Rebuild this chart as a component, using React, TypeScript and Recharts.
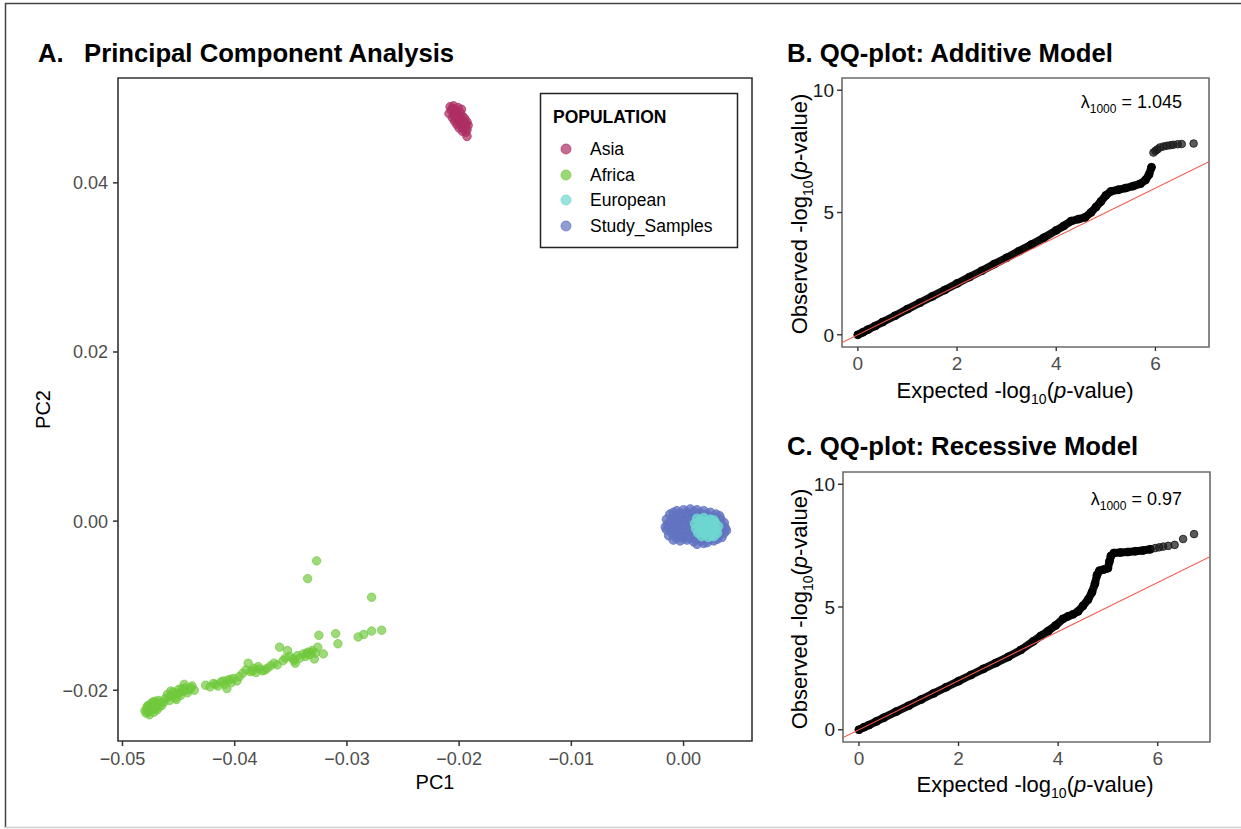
import React from 'react';
import { ScatterChart, Scatter, XAxis, YAxis, ReferenceArea } from 'recharts';

const FONT = "'Liberation Sans', Arial, Helvetica, sans-serif";

// ---------- Panel A: PCA ----------
const populations = ['Asia', 'Africa', 'European', 'Study_Samples'];
const popColors = ['#AD2F63', '#70C93C', '#6ED6D0', '#6173C0'];
const pc1Ticks = [-0.05, -0.04, -0.03, -0.02, -0.01, 0.0];
const pc2Ticks = [-0.02, 0.0, 0.02, 0.04];

const asiaPoints = [
  [-0.0208, 0.049], [-0.0205, 0.0491], [-0.0201, 0.0489], [-0.0198, 0.0487], [-0.0207, 0.0486],
  [-0.0203, 0.0485], [-0.0199, 0.0483], [-0.0209, 0.0482], [-0.0205, 0.048], [-0.0201, 0.048],
  [-0.0197, 0.0479], [-0.0206, 0.0477], [-0.0202, 0.0476], [-0.0198, 0.0475], [-0.0195, 0.0476],
  [-0.0204, 0.0473], [-0.02, 0.0472], [-0.0196, 0.0471], [-0.0193, 0.0472], [-0.0202, 0.0469],
  [-0.0198, 0.0468], [-0.0195, 0.0467], [-0.0192, 0.0468], [-0.02, 0.0465], [-0.0196, 0.0464],
  [-0.0193, 0.0463], [-0.0197, 0.0461], [-0.0194, 0.046], [-0.0193, 0.0455],
  [-0.0206, 0.0488], [-0.0203, 0.0482], [-0.02, 0.0477], [-0.0199, 0.047], [-0.0197, 0.0466],
  [-0.0204, 0.0479], [-0.0194, 0.047], [-0.0201, 0.0474],
];

const africaPoints = [
  [-0.0479, -0.0227], [-0.0478, -0.0222], [-0.0477, -0.0218], [-0.0476, -0.0225], [-0.0475, -0.022],
  [-0.0474, -0.0215], [-0.0473, -0.0223], [-0.0472, -0.0218], [-0.0471, -0.0213], [-0.047, -0.0221],
  [-0.0469, -0.0216], [-0.0468, -0.0212], [-0.0467, -0.0219], [-0.048, -0.0224], [-0.0476, -0.0229],
  [-0.0472, -0.0226], [-0.0466, -0.0214], [-0.0465, -0.0218], [-0.0478, -0.0219], [-0.0474, -0.0221],
  [-0.0471, -0.0217], [-0.0477, -0.0226], [-0.0469, -0.0223], [-0.0473, -0.0214],
  [-0.0462, -0.021], [-0.046, -0.0205], [-0.0458, -0.0212], [-0.0456, -0.0207], [-0.0455, -0.0202],
  [-0.0453, -0.0209], [-0.0451, -0.0204], [-0.045, -0.0199], [-0.0448, -0.0206], [-0.0446, -0.0201],
  [-0.0444, -0.0197], [-0.0442, -0.0203], [-0.044, -0.0199], [-0.0438, -0.0195], [-0.0445, -0.0193],
  [-0.0436, -0.02], [-0.0457, -0.0201], [-0.0463, -0.0214], [-0.0459, -0.0208], [-0.0454, -0.0205],
  [-0.0449, -0.0203], [-0.0447, -0.0198], [-0.0443, -0.02], [-0.0439, -0.0197], [-0.0452, -0.0211],
  [-0.0426, -0.0194], [-0.0422, -0.0196], [-0.0419, -0.0192], [-0.0415, -0.0195], [-0.0412, -0.019],
  [-0.0409, -0.0193], [-0.0406, -0.0188], [-0.0403, -0.0191], [-0.0401, -0.0186], [-0.0398, -0.0189],
  [-0.0396, -0.0184], [-0.0407, -0.0198], [-0.0417, -0.0193], [-0.041, -0.0189], [-0.0404, -0.0187],
  [-0.0393, -0.018], [-0.039, -0.0176], [-0.0388, -0.0168], [-0.0386, -0.0178], [-0.0383, -0.0174],
  [-0.0381, -0.0179], [-0.0378, -0.0175], [-0.0375, -0.0177], [-0.0371, -0.0174], [-0.0368, -0.0171],
  [-0.0365, -0.0168], [-0.0384, -0.0177], [-0.0379, -0.0172], [-0.0373, -0.0176],
  [-0.0362, -0.017], [-0.036, -0.0149], [-0.0357, -0.0165], [-0.0355, -0.0162], [-0.0353, -0.0153],
  [-0.0351, -0.016], [-0.0348, -0.0163], [-0.0346, -0.0168], [-0.0344, -0.0159], [-0.0342, -0.0162],
  [-0.0339, -0.0157], [-0.0337, -0.016], [-0.0335, -0.0155], [-0.0333, -0.0158], [-0.0331, -0.0153],
  [-0.0329, -0.0163], [-0.0328, -0.0156], [-0.0326, -0.0149], [-0.0325, -0.0135], [-0.0321, -0.0157],
  [-0.0336, -0.0157], [-0.0332, -0.0155], [-0.0347, -0.0165],
  [-0.0327, -0.0047], [-0.0335, -0.0068], [-0.0278, -0.009], [-0.031, -0.0133], [-0.0308, -0.0145],
  [-0.029, -0.0137], [-0.0285, -0.0134], [-0.0278, -0.013], [-0.0269, -0.0129],
];

const studyPoints = [
  [-0.0012, 0.0008], [-0.0006, 0.0012], [0.0, 0.0013], [0.0006, 0.0014], [0.0012, 0.0013], [0.0018, 0.0012],
  [0.0024, 0.001], [0.0029, 0.0008],
  [-0.0015, 0.0002], [-0.0009, 0.0004], [-0.0003, 0.0005], [0.0003, 0.0007], [0.0009, 0.0006], [0.0015, 0.0005],
  [0.0021, 0.0004], [0.0027, 0.0003], [0.0033, 0.0002],
  [-0.0014, -0.0004], [-0.0008, -0.0003], [-0.0002, -0.0002], [0.0004, -0.0001], [0.001, -0.0002],
  [0.0016, -0.0003], [0.0022, -0.0002], [0.0028, -0.0003], [0.0034, -0.0004], [0.0037, -0.0008],
  [-0.0015, -0.001], [-0.001, -0.0011], [-0.0004, -0.0009], [0.0002, -0.001], [0.0008, -0.0011],
  [0.0014, -0.0012], [0.002, -0.001], [0.0026, -0.0011], [0.0032, -0.0012], [0.0036, -0.0014],
  [-0.0013, -0.0017], [-0.0007, -0.0016], [-0.0001, -0.0018], [0.0005, -0.0017], [0.0011, -0.0019],
  [0.0017, -0.0018], [0.0023, -0.0019], [0.0029, -0.0018], [0.0034, -0.0019],
  [-0.0009, -0.0022], [-0.0003, -0.0023], [0.0003, -0.0022], [0.0009, -0.0024], [0.0015, -0.0023],
  [0.0021, -0.0025], [0.0027, -0.0023], [0.0012, -0.0027], [0.0018, -0.0026],
  [-0.0009, 0.001], [-0.0003, 0.0009], [0.0003, 0.001], [0.0009, 0.0011], [0.0015, 0.0009], [0.0021, 0.0008],
  [-0.0012, -0.0001], [-0.0006, 0.0], [0.0, 0.0001], [0.0006, 0.0002], [0.0012, 0.0001], [0.0018, 0.0001],
  [0.0024, 0.0], [0.003, -0.0001], [-0.0011, -0.0007], [-0.0005, -0.0006], [0.0001, -0.0006],
  [0.0007, -0.0007], [0.0013, -0.0007], [0.0019, -0.0006], [0.0025, -0.0007], [0.0031, -0.0008],
  [-0.001, -0.0014], [-0.0004, -0.0013], [0.0002, -0.0014], [0.0008, -0.0015], [0.0014, -0.0015],
  [0.002, -0.0014], [0.0026, -0.0015], [0.0032, -0.0016], [-0.0006, -0.002], [0.0, -0.002],
  [0.0006, -0.002], [0.0012, -0.0021], [0.0018, -0.0021], [0.0024, -0.0021], [0.003, -0.0021],
  [-0.0016, -0.0007], [0.0038, -0.0011], [0.0036, -0.0002], [0.0032, 0.0006],
];

const europeanPoints = [
  [0.0012, 0.0003], [0.0018, 0.0004], [0.0024, 0.0002], [0.001, -0.0003], [0.0016, -0.0002],
  [0.0022, -0.0003], [0.0028, -0.0002], [0.0031, -0.0006], [0.0011, -0.0009], [0.0017, -0.0008],
  [0.0023, -0.0009], [0.0029, -0.001], [0.0013, -0.0014], [0.0019, -0.0013], [0.0025, -0.0015],
  [0.003, -0.0014], [0.0016, -0.0018], [0.0022, -0.0019], [0.0027, -0.0018],
  [0.0015, 0.0001], [0.0021, 0.0], [0.0027, 0.0001], [0.0014, -0.0006], [0.002, -0.0006],
  [0.0026, -0.0006], [0.0016, -0.0011], [0.0022, -0.0012], [0.0028, -0.0013], [0.0019, -0.0016],
  [0.0025, -0.0017],
];

// ---------- Panels B & C: QQ plots ----------
const qqXTicks = [0, 2, 4, 6];
const qqYTicks = [0, 5, 10];

const additiveDense = [
  [0, 0], [0.1, 0.1], [0.2, 0.21], [0.35, 0.36], [0.5, 0.52], [0.75, 0.78], [1, 1.05], [1.25, 1.31],
  [1.5, 1.57], [1.75, 1.83], [2, 2.1], [2.25, 2.36], [2.5, 2.62], [2.75, 2.89], [3, 3.15], [3.25, 3.42],
  [3.5, 3.69], [3.75, 3.97], [4, 4.27], [4.15, 4.45], [4.3, 4.65], [4.45, 4.73], [4.58, 4.8], [4.7, 5.0],
  [4.8, 5.22], [4.9, 5.45], [5.0, 5.7], [5.1, 5.86], [5.25, 5.93], [5.4, 6.0], [5.55, 6.08], [5.7, 6.18],
  [5.8, 6.33], [5.87, 6.55], [5.92, 6.85],
];
const additiveTail = [
  [5.96, 7.45], [6.0, 7.52], [6.04, 7.58], [6.09, 7.66], [6.16, 7.7], [6.23, 7.73], [6.3, 7.75],
  [6.36, 7.77], [6.45, 7.79], [6.53, 7.8], [6.77, 7.82],
];

const recessiveDense = [
  [0, 0], [0.1, 0.1], [0.2, 0.19], [0.35, 0.34], [0.5, 0.49], [0.75, 0.74], [1, 0.98], [1.25, 1.23],
  [1.5, 1.48], [1.75, 1.73], [2, 1.98], [2.25, 2.23], [2.5, 2.48], [2.75, 2.72], [3, 2.97], [3.25, 3.25],
  [3.5, 3.6], [3.65, 3.82], [3.8, 4.02], [3.95, 4.25], [4.1, 4.52], [4.2, 4.62], [4.3, 4.7], [4.4, 4.82],
  [4.5, 5.05], [4.6, 5.3], [4.68, 5.6], [4.74, 5.95], [4.78, 6.3], [4.83, 6.48], [4.92, 6.53], [5.0, 6.58],
  [5.03, 6.85], [5.06, 7.08], [5.12, 7.2], [5.25, 7.22], [5.4, 7.24], [5.55, 7.27], [5.7, 7.3], [5.85, 7.35],
];
const recessiveTail = [
  [5.95, 7.4], [6.03, 7.43], [6.11, 7.46], [6.21, 7.49], [6.34, 7.53], [6.51, 7.77], [6.73, 7.97],
];

const toPC = (arr: number[][]) => arr.map(([a, b]) => ({ pc1: a, pc2: b }));
const toQQ = (arr: number[][]) => arr.map(([a, b]) => ({ e: a, o: b }));

const pcDomainX: [number, number] = [-0.0504, 0.0061];
const pcDomainY: [number, number] = [-0.026, 0.0524];
const qqDomainY: [number, number] = [-0.5, 10.5];

const fmtPC = (v: number) => (v < -1e-9 ? '\u2212' : '') + Math.abs(v).toFixed(2);

const dot = (color: string, r: number, fo: number, so: number) => (props: any) =>
  props.cx == null ? <g /> : (
    <circle cx={props.cx} cy={props.cy} r={r} fill={color} fillOpacity={fo} stroke={color} strokeOpacity={so} strokeWidth={1} />
  );
const noDot = () => <g />;

function QQPanel({ dense, tail, domainX, left, top, height, marginTop, marginBottom, marginLeft, marginRight }: any) {
  const red = [{ e: domainX[0], o: domainX[0] }, { e: domainX[1], o: domainX[1] }];
  return (
    <div style={{ position: 'absolute', left, top }}>
      <ScatterChart width={470} height={height} margin={{ top: marginTop, right: marginRight, bottom: marginBottom, left: marginLeft }}>
        <XAxis type="number" dataKey="e" domain={domainX} ticks={qqXTicks} allowDataOverflow height={40}
          axisLine={false} tickLine={{ stroke: '#333', strokeWidth: 1.4 }} tickSize={4} tickMargin={6} interval={0}
          tick={{ fill: '#4d4d4d', fontSize: 19, fontFamily: FONT }} />
        <YAxis type="number" dataKey="o" domain={qqDomainY} ticks={qqYTicks} allowDataOverflow width={40}
          axisLine={false} tickLine={{ stroke: '#333', strokeWidth: 1.4 }} tickSize={5} tickMargin={3} interval={0}
          tick={{ fill: '#1a1a1a', fontSize: 19, fontFamily: FONT }} />
        <ReferenceArea x1={domainX[0]} x2={domainX[1]} y1={qqDomainY[0]} y2={qqDomainY[1]} fill="none" fillOpacity={0}
          stroke="#6b6b6b" strokeWidth={1.6} ifOverflow="visible" />
        <Scatter data={toQQ(dense)} isAnimationActive={false}
          line={{ stroke: '#000', strokeWidth: 8, strokeOpacity: 0.95, strokeLinecap: 'round', strokeLinejoin: 'round' } as any}
          shape={dot('#000', 4, 0.8, 0.8)} />
        <Scatter data={toQQ(tail)} isAnimationActive={false} shape={dot('#1a1a1a', 3.8, 0.72, 0.85)} />
        <Scatter data={red} isAnimationActive={false} line={{ stroke: '#F0564A', strokeWidth: 1.1 } as any} shape={noDot} />
      </ScatterChart>
    </div>
  );
}

const SubLabel = ({ x, y, main, rotate }: any) => (
  <text x={0} y={0} transform={`translate(${x},${y})${rotate ? ' rotate(-90)' : ''}`} textAnchor="middle"
    fontSize={22} fontFamily={FONT} fill="#000">
    {main} -log<tspan fontSize={14} dy={6}>10</tspan><tspan dy={-6}>(</tspan><tspan fontStyle="italic">p</tspan>-value)
  </text>
);

export default function App() {
  const legendY = [149, 175, 200, 226];
  return (
    <div style={{ position: 'absolute', left: 0, top: 0, width: 1241, height: 829, background: '#fff', overflow: 'hidden' }}>
      {/* Panel A */}
      <div style={{ position: 'absolute', left: 0, top: 0 }}>
        <ScatterChart width={800} height={829} margin={{ top: 78, right: 48, bottom: 48, left: 48 }}>
          <XAxis type="number" dataKey="pc1" domain={pcDomainX} ticks={pc1Ticks} tickFormatter={fmtPC} allowDataOverflow
            height={40} axisLine={false} tickLine={{ stroke: '#333', strokeWidth: 1.5 }} tickSize={5} tickMargin={6} interval={0}
            tick={{ fill: '#4d4d4d', fontSize: 18, fontFamily: FONT }} />
          <YAxis type="number" dataKey="pc2" domain={pcDomainY} ticks={pc2Ticks} tickFormatter={fmtPC} allowDataOverflow
            width={70} axisLine={false} tickLine={{ stroke: '#333', strokeWidth: 1.5 }} tickSize={5} tickMargin={5} interval={0}
            tick={{ fill: '#4d4d4d', fontSize: 18, fontFamily: FONT }} />
          <ReferenceArea x1={pcDomainX[0]} x2={pcDomainX[1]} y1={pcDomainY[0]} y2={pcDomainY[1]} fill="none" fillOpacity={0}
            stroke="#333" strokeWidth={1.6} ifOverflow="visible" />
          <Scatter name="Asia" data={toPC(asiaPoints)} isAnimationActive={false} shape={dot(popColors[0], 4.3, 0.72, 0.75)} />
          <Scatter name="Africa" data={toPC(africaPoints)} isAnimationActive={false} shape={dot(popColors[1], 4.2, 0.68, 0.75)} />
          <Scatter name="Study_Samples" data={toPC(studyPoints)} isAnimationActive={false} shape={dot(popColors[3], 4.6, 0.8, 0.8)} />
          <Scatter name="European" data={toPC(europeanPoints)} isAnimationActive={false} shape={dot(popColors[2], 4.6, 0.85, 0.85)} />
        </ScatterChart>
      </div>

      <QQPanel dense={additiveDense} tail={additiveTail} domainX={[-0.32, 7.08]} left={760} top={0} height={420}
        marginTop={78} marginBottom={33} marginLeft={42} marginRight={21} />
      <QQPanel dense={recessiveDense} tail={recessiveTail} domainX={[-0.32, 7.05]} left={760} top={420} height={409}
        marginTop={52} marginBottom={47} marginLeft={43} marginRight={20} />

      {/* Overlay: frame, titles, axis titles, legend, annotations */}
      <svg width={1241} height={829} style={{ position: 'absolute', left: 0, top: 0, pointerEvents: 'none' }}>
        <line x1={5} y1={3.5} x2={1241} y2={3.5} stroke="#444" strokeWidth={1.5} />
        <line x1={5.5} y1={3} x2={5.5} y2={828} stroke="#444" strokeWidth={1.5} />
        <line x1={5} y1={827.5} x2={1241} y2={827.5} stroke="#cfcfcf" strokeWidth={1.5} />

        <g fontFamily={FONT} fontWeight="bold" fontSize={25.7} fill="#000">
          <text x={38} y={62}>A.</text>
          <text x={84} y={62}>Principal Component Analysis</text>
          <text x={787} y={62}>B. QQ-plot: Additive Model</text>
          <text x={787} y={455}>C. QQ-plot: Recessive Model</text>
        </g>

        <text x={435} y={789} textAnchor="middle" fontSize={20} fontFamily={FONT} fill="#000">PC1</text>
        <text x={0} y={0} transform="translate(50,409.5) rotate(-90)" textAnchor="middle" fontSize={20} fontFamily={FONT} fill="#000">PC2</text>

        <SubLabel x={1015} y={398} main="Expected" />
        <SubLabel x={1035} y={792} main="Expected" />
        <SubLabel x={807} y={214} main="Observed" rotate />
        <SubLabel x={807} y={609} main="Observed" rotate />

        <text x={1182} y={108} textAnchor="end" fontSize={18} fontFamily={FONT} fill="#000">
          λ<tspan fontSize={12} dy={5}>1000</tspan><tspan dy={-5}> = 1.045</tspan>
        </text>
        <text x={1182} y={505} textAnchor="end" fontSize={18} fontFamily={FONT} fill="#000">
          λ<tspan fontSize={12} dy={5}>1000</tspan><tspan dy={-5}> = 0.97</tspan>
        </text>

        <rect x={540.5} y={93.5} width={197} height={154} fill="#fff" stroke="#222" strokeWidth={1.5} />
        <text x={553} y={123} fontSize={17.5} fontWeight="bold" fontFamily={FONT} fill="#000">POPULATION</text>
        {populations.map((p, i) => (
          <g key={p}>
            <circle cx={566} cy={legendY[i]} r={5} fill={popColors[i]} fillOpacity={0.7} stroke={popColors[i]} strokeOpacity={0.7} />
            <text x={590} y={legendY[i] + 6} fontSize={17.5} fontFamily={FONT} fill="#000">{p}</text>
          </g>
        ))}
      </svg>
    </div>
  );
}
